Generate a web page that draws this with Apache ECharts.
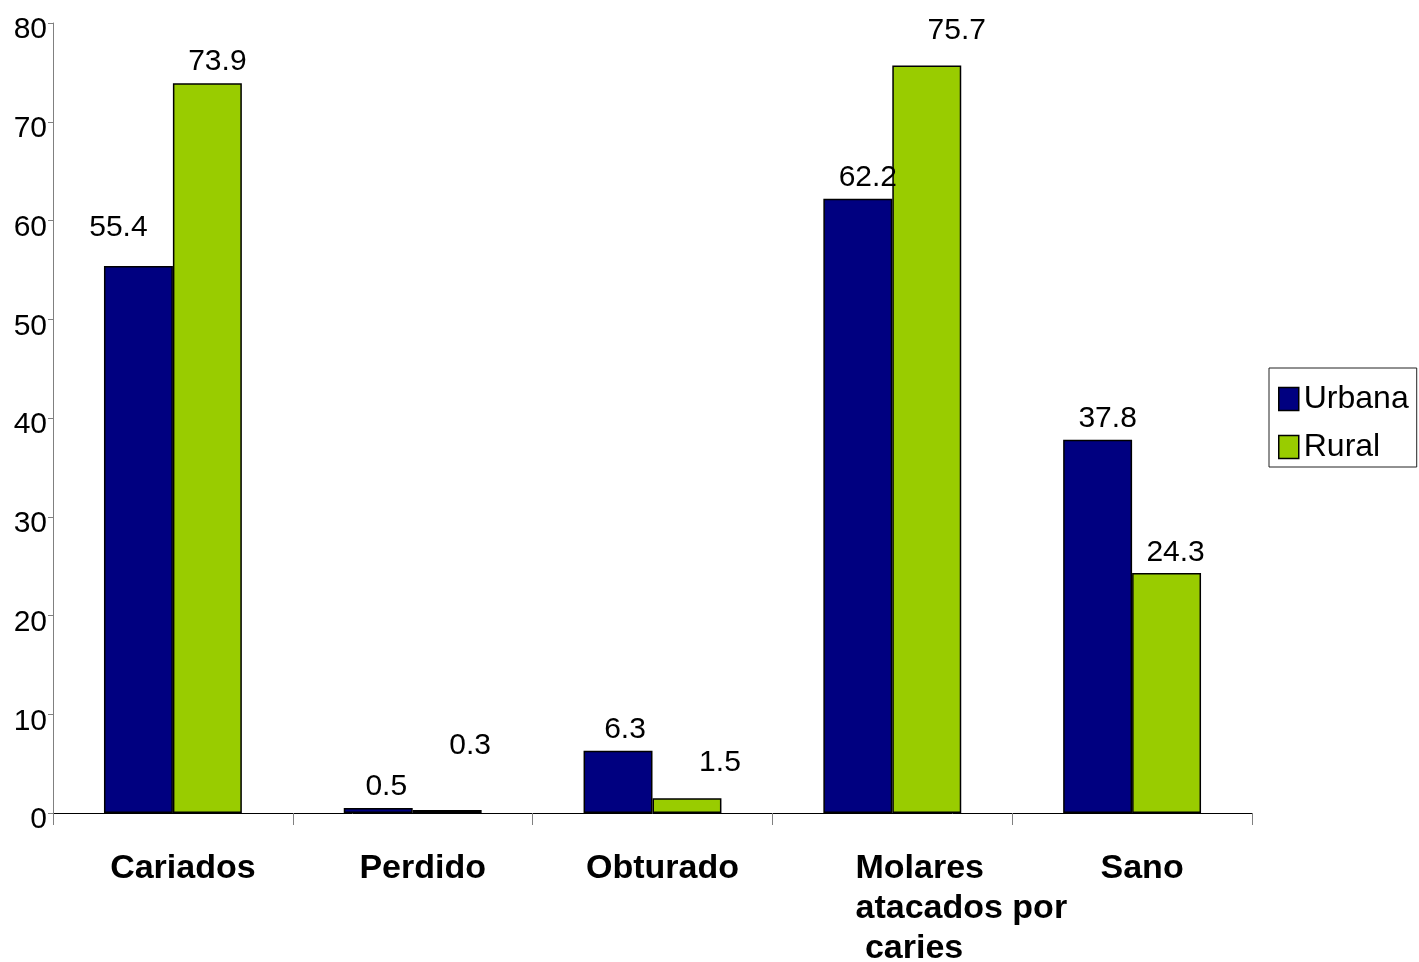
<!DOCTYPE html>
<html>
<head>
<meta charset="utf-8">
<title>Molares: Urbana vs Rural</title>
<script src="https://cdn.jsdelivr.net/npm/echarts@6/dist/echarts.min.js"></script>
<style>
  html, body { margin: 0; padding: 0; background: #ffffff; }
  #chart { width: 1419px; height: 962px; }
</style>
</head>
<body>
<div id="chart"></div>
<script>
// Data
const categories = ['Cariados', 'Perdido', 'Obturado', 'Molares atacados por caries', 'Sano'];
const urbana = [55.4, 0.5, 6.3, 62.2, 37.8];
const rural = [73.9, 0.3, 1.5, 75.7, 24.3];
const seriesNames = ['Urbana', 'Rural'];
const yTicks = { min: 0, max: 80, interval: 10 };

// Label nudges [dx, dy] in pixels, per series and category
const urbanaLabelNudge = [[-20, -17], [8, 0], [7, 0], [10, 0], [10, 0]];
const ruralLabelNudge = [[10, -1], [23, -43], [33, -14], [30, -14], [9, 1]];

const FONT = 'Arial, "Liberation Sans", Helvetica, sans-serif';

function withLabels(values, nudges) {
  return values.map((v, i) => ({ value: v, label: { offset: nudges[i] } }));
}

function categoryLabel(name) {
  if (name === 'Molares atacados por caries') {
    return '{m|Molares}\n{m|atacados por}\n{m| caries}';
  }
  return '{c|' + name + '}';
}

const chart = echarts.init(document.getElementById('chart'), null, { renderer: 'canvas' });

const labelStyle = {
  show: true,
  position: 'top',
  distance: 6,
  color: '#000',
  fontFamily: FONT,
  fontSize: 30,
  lineHeight: 30,
  formatter: p => p.value.toFixed(1)
};

chart.setOption({
  animation: false,
  backgroundColor: '#ffffff',
  grid: {
    left: 53, right: 167, top: 23, bottom: 149,
    containLabel: false,
    outerBoundsMode: 'none'
  },
  legend: {
    orient: 'vertical',
    left: 1269,
    top: 368,
    padding: [15, 8, 4, 9],
    itemWidth: 20,
    itemHeight: 23,
    itemGap: 16,
    icon: 'rect',
    borderColor: '#222',
    borderWidth: 1,
    backgroundColor: '#fff',
    itemStyle: { borderColor: '#000', borderWidth: 1.5 },
    textStyle: {
      fontFamily: FONT, fontSize: 32, color: '#000',
      lineHeight: 23, width: 96, overflow: 'none'
    },
    data: seriesNames
  },
  xAxis: {
    type: 'category',
    data: categories,
    boundaryGap: true,
    axisLine: { show: true, lineStyle: { color: '#000', width: 1 } },
    axisTick: { show: true, length: 12, alignWithLabel: false, lineStyle: { color: '#808080', width: 1 } },
    axisLabel: {
      interval: 0,
      margin: 36,
      color: '#000',
      fontFamily: FONT,
      fontSize: 34,
      fontWeight: 'bold',
      formatter: categoryLabel,
      rich: {
        c: { fontFamily: FONT, fontSize: 34, fontWeight: 'bold', color: '#000', lineHeight: 40, padding: [0, 0, 0, 20] },
        m: { fontFamily: FONT, fontSize: 34, fontWeight: 'bold', color: '#000', lineHeight: 40, align: 'left', padding: [0, 0, 0, 138] }
      }
    },
    splitLine: { show: false }
  },
  yAxis: {
    type: 'value',
    min: yTicks.min,
    max: yTicks.max,
    interval: yTicks.interval,
    axisLine: { show: true, lineStyle: { color: '#808080', width: 1 } },
    axisTick: { show: true, length: 5, inside: false, lineStyle: { color: '#808080', width: 1 } },
    axisLabel: {
      margin: 6,
      color: '#000',
      fontFamily: FONT,
      fontSize: 30,
      formatter: '{v|{value}}',
      rich: {
        v: { fontFamily: FONT, fontSize: 30, color: '#000', padding: [14, 0, 0, 0] }
      }
    },
    splitLine: { show: false }
  },
  series: [
    {
      name: seriesNames[0],
      type: 'bar',
      barGap: '0%',
      barCategoryGap: '42.5%',
      itemStyle: { color: '#000080', borderColor: '#000', borderWidth: 1.5 },
      label: labelStyle,
      data: withLabels(urbana, urbanaLabelNudge)
    },
    {
      name: seriesNames[1],
      type: 'bar',
      barGap: '0%',
      barCategoryGap: '42.5%',
      itemStyle: { color: '#99CC00', borderColor: '#000', borderWidth: 1.5 },
      label: labelStyle,
      data: withLabels(rural, ruralLabelNudge)
    }
  ]
});
</script>
</body>
</html>
